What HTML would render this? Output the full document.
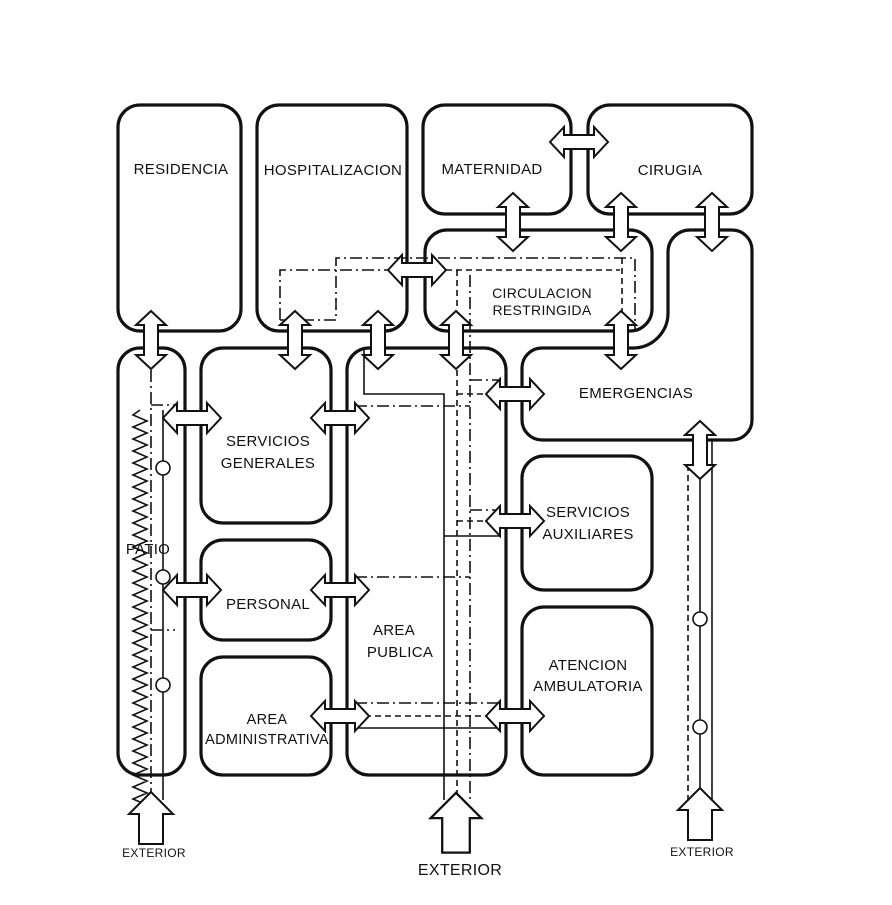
<!DOCTYPE html>
<html><head><meta charset="utf-8"><style>
html,body{margin:0;padding:0;background:#fff;}
svg{display:block;}
text{font-family:"Liberation Sans",sans-serif;font-size:15px;fill:#111;text-anchor:middle;letter-spacing:0.3px;}
</style></head><body>
<svg width="892" height="905" viewBox="0 0 892 905" xmlns="http://www.w3.org/2000/svg">
<defs>
<polygon id="da" points="-29,0 -15,-15 -15,-7 15,-7 15,-15 29,0 15,15 15,7 -15,7 -15,15" fill="#fff" stroke="#111" stroke-width="2"/>
<polygon id="ex" points="0,-28 -22,-6 -12,-6 -12,24 12,24 12,-6 22,-6" fill="#fff" stroke="#111" stroke-width="2"/>
</defs>
<g fill="none" stroke="#111" stroke-width="3.2">
<rect x="118" y="105" width="123" height="226" rx="22"/>
<rect x="257" y="105" width="150" height="226" rx="22"/>
<rect x="423" y="105" width="148" height="109" rx="22"/>
<rect x="588" y="105" width="164" height="109" rx="22"/>
<rect x="425" y="230" width="227" height="101" rx="22"/>
<path d="M690,230 H732 A20,20 0 0 1 752,250 V420 A20,20 0 0 1 732,440 H542 A20,20 0 0 1 522,420 V368 A20,20 0 0 1 542,348 H633 A35,35 0 0 0 668,313 V252 A22,22 0 0 1 690,230 Z"/>
<rect x="118" y="348" width="67" height="427" rx="22"/>
<rect x="201" y="348" width="130" height="175" rx="22"/>
<rect x="201" y="540" width="130" height="100" rx="22"/>
<rect x="201" y="657" width="130" height="118" rx="22"/>
<rect x="347" y="348" width="159" height="427" rx="22"/>
<rect x="522" y="456" width="130" height="134" rx="22"/>
<rect x="522" y="607" width="130" height="168" rx="22"/>
</g>
<g fill="none" stroke="#111" stroke-width="1.6">
<polyline points="163,410 163,800"/>
<polyline points="364,350 364,394 444,394 444,800"/>
<polyline points="444,536 500,536"/>
<polyline points="355,728 500,728"/>
<polyline points="700,440 700,800"/>
<polyline points="712,440 712,800"/>
<polyline points="140,410 133,415 147,421 133,427 147,433 133,439 147,445 133,451 147,457 133,463 147,469 133,475 147,481 133,487 147,493 133,499 147,505 133,511 147,517 133,523 147,529 133,535 147,541 133,547 147,553 133,559 147,565 133,571 147,577 133,583 147,589 133,595 147,601 133,607 147,613 133,619 147,625 133,631 147,637 133,643 147,649 133,655 147,661 133,667 147,673 133,679 147,685 133,691 147,697 133,703 147,709 133,715 147,721 133,727 147,733 133,739 147,745 133,751 147,757 133,763 147,769 133,775 147,781 133,787 147,793 133,799 147,805 133,811"/>
</g>
<g fill="none" stroke="#111" stroke-width="1.6" stroke-dasharray="12,4,2,4">
<polyline points="151,370 151,800"/>
<polyline points="151,405 175,405"/>
<polyline points="151,630 175,630"/>
<polyline points="280,320 280,270 389,270"/>
<polyline points="280,320 336,320 336,258 630,258 635,258 635,330"/>
<polyline points="470,275 470,800"/>
<polyline points="355,406 470,406"/>
<polyline points="355,577 470,577"/>
<polyline points="355,703 500,703"/>
<polyline points="470,380 500,380"/>
<polyline points="470,510 500,510"/>
</g>
<g fill="none" stroke="#111" stroke-width="1.6" stroke-dasharray="6,4">
<polyline points="446,270 620,270"/>
<polyline points="457,270 457,310"/>
<polyline points="622,258 622,330"/>
<polyline points="457,370 457,800"/>
<polyline points="457,394 488,394"/>
<polyline points="457,521 488,521"/>
<polyline points="355,716 488,716"/>
<polyline points="688,465 688,800"/>
</g>
<g fill="#fff" stroke="#111" stroke-width="1.6">
<circle cx="163" cy="468" r="7"/><circle cx="163" cy="577" r="7"/><circle cx="163" cy="685" r="7"/>
<circle cx="700" cy="619" r="7"/><circle cx="700" cy="727" r="7"/>
</g>
<use href="#da" transform="translate(151,340) rotate(90)"/>
<use href="#da" transform="translate(295,340) rotate(90)"/>
<use href="#da" transform="translate(378,340) rotate(90)"/>
<use href="#da" transform="translate(456,340) rotate(90)"/>
<use href="#da" transform="translate(621,340) rotate(90)"/>
<use href="#da" transform="translate(513,222) rotate(90)"/>
<use href="#da" transform="translate(621,222) rotate(90)"/>
<use href="#da" transform="translate(712,222) rotate(90)"/>
<use href="#da" transform="translate(579,142)"/>
<use href="#da" transform="translate(417,270)"/>
<use href="#da" transform="translate(192,418)"/>
<use href="#da" transform="translate(340,418)"/>
<use href="#da" transform="translate(192,590)"/>
<use href="#da" transform="translate(340,590)"/>
<use href="#da" transform="translate(340,716)"/>
<use href="#da" transform="translate(515,716)"/>
<use href="#da" transform="translate(515,394)"/>
<use href="#da" transform="translate(515,521)"/>
<use href="#da" transform="translate(700,450) rotate(90)"/>
<use href="#ex" transform="translate(151,820)"/>
<use href="#ex" transform="translate(456,825) scale(1.15)"/>
<use href="#ex" transform="translate(700,816)"/>
<text x="181" y="174">RESIDENCIA</text>
<text x="333" y="175">HOSPITALIZACION</text>
<text x="492" y="174">MATERNIDAD</text>
<text x="670" y="175">CIRUGIA</text>
<text x="542" y="298" style="font-size:14px">CIRCULACION</text>
<text x="542" y="315" style="font-size:14px">RESTRINGIDA</text>
<text x="636" y="398">EMERGENCIAS</text>
<text x="268" y="446">SERVICIOS</text>
<text x="268" y="468">GENERALES</text>
<text x="148" y="554">PATIO</text>
<text x="268" y="609">PERSONAL</text>
<text x="394" y="635">AREA</text>
<text x="400" y="657">PUBLICA</text>
<text x="267" y="724" style="font-size:14.5px">AREA</text>
<text x="267" y="744" style="font-size:14.5px">ADMINISTRATIVA</text>
<text x="588" y="517">SERVICIOS</text>
<text x="588" y="539">AUXILIARES</text>
<text x="588" y="670">ATENCION</text>
<text x="588" y="691">AMBULATORIA</text>
<text x="154" y="857" style="font-size:12px">EXTERIOR</text>
<text x="460" y="875" style="font-size:16px">EXTERIOR</text>
<text x="702" y="856" style="font-size:12px">EXTERIOR</text>
</svg>
</body></html>
